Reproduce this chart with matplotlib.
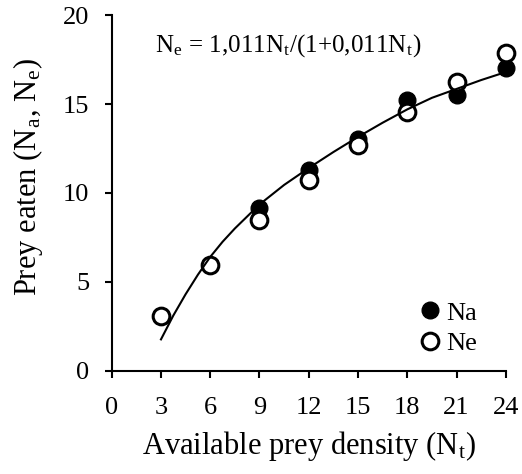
import matplotlib
matplotlib.use('Agg')
import matplotlib.pyplot as plt

# Data
density = [3, 6, 9, 12, 15, 18, 21, 24]
na_eaten = [3.1, 5.95, 9.15, 11.27, 13.05, 15.25, 15.5, 17.0]
ne_eaten = [3.1, 5.93, 8.47, 10.7, 12.68, 14.55, 16.25, 17.85]

# fitted curve
fit_x = [3, 3.75, 4.5, 5.25, 6, 6.75, 7.5, 9, 10.5, 12, 13.5, 15, 16.5, 18, 19.5, 21, 22.5, 24]
fit_y = [1.76, 3.1, 4.3, 5.4, 6.4, 7.25, 8.0, 9.35, 10.45, 11.4, 12.3, 13.15, 13.95, 14.7, 15.35, 15.85, 16.35, 16.8]

xticks = [0, 3, 6, 9, 12, 15, 18, 21, 24]
yticks = [0, 5, 10, 15, 20]

plt.rcParams['font.family'] = 'Liberation Serif'
plt.rcParams['mathtext.fontset'] = 'stix'

fig = plt.figure(figsize=(5.22, 4.74), dpi=100)
ax = fig.add_axes([0.214, 0.218, 0.755, 0.75])

ax.plot(density, na_eaten, 'o', color='black', markersize=12, label='Na',
        zorder=2, clip_on=False)
ax.plot(density, ne_eaten, 'o', markerfacecolor='white', markeredgecolor='black',
        markeredgewidth=2.2, markersize=12, label='Ne', zorder=2.5, clip_on=False)
ax.plot(fit_x, fit_y, color='black', linewidth=1.5, zorder=3)

ax.set_xlim(0, 24)
ax.set_ylim(0, 20)
ax.set_xticks(xticks)
ax.set_yticks(yticks)
ax.spines['top'].set_visible(False)
ax.spines['right'].set_visible(False)
ax.spines['left'].set_linewidth(1.5)
ax.spines['bottom'].set_linewidth(1.5)
ax.tick_params(axis='x', direction='out', length=5, width=1.5, pad=14, labelsize=19)
ax.tick_params(axis='y', direction='out', length=5, width=1.5, pad=11, labelsize=19)

ax.set_xlabel('Available prey density (N$_\\mathregular{t}$)', fontsize=22)
ax.xaxis.set_label_coords(0.5, -0.165)
ax.set_ylabel('Prey eaten (N$_\\mathregular{a}$, N$_\\mathregular{e}$)', fontsize=22)
ax.yaxis.set_label_coords(-0.17, 0.546)

ax.text(2.64, 18.3, 'N$_\\mathregular{e}$ = 1,011N$_\\mathregular{t}$/(1+0,011N$_\\mathregular{t}$)',
        fontsize=18, va='center')

ax.legend(loc='lower right', frameon=False, fontsize=19, handletextpad=0.0,
          borderaxespad=0.0, labelspacing=0.25, handlelength=1.2,
          bbox_to_anchor=(0.953, 0.015))

fig.savefig('out.png', dpi=100)
